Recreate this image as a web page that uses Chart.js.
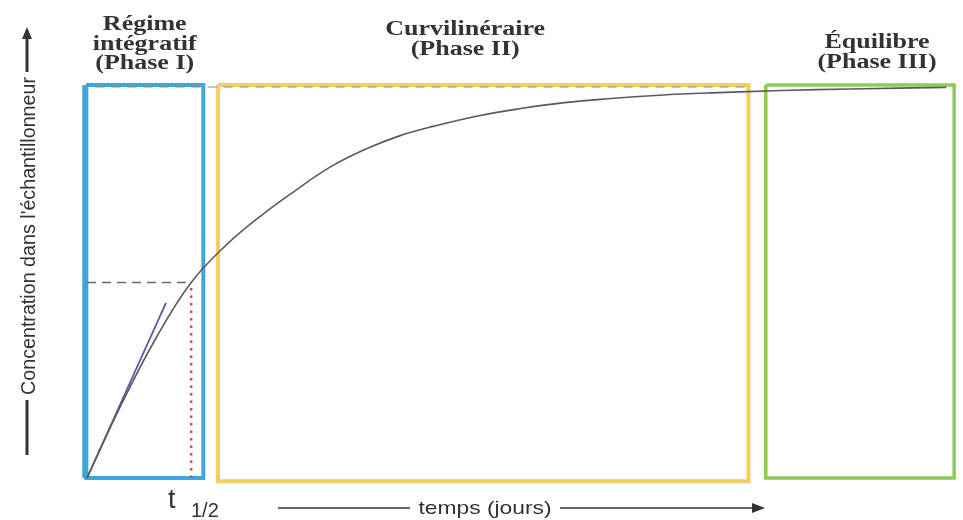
<!DOCTYPE html>
<html>
<head>
<meta charset="utf-8">
<script src="https://cdn.jsdelivr.net/npm/chart.js@4/dist/chart.umd.min.js"></script>
<style>
  html, body { margin: 0; padding: 0; background: #fff; }
  #chart { display: block; }
</style>
</head>
<body>
<canvas id="chart" width="963" height="520"></canvas>
<script>
// Uptake curve (x = time, y = % of equilibrium concentration)
const curveX = [0, 4, 8, 12, 16, 20, 24, 28, 32, 36, 40, 45, 50, 55, 60, 66, 72, 80, 88, 99];
const curveY = [0, 19, 36, 50, 59.5, 67, 73.5, 79.5, 84, 87.5, 90, 92.6, 94.5, 96, 97, 97.9, 98.5, 99.1, 99.5, 99.9];

// Initial slope (linear regime)
const tangentX = [0, 9.1];
const tangentY = [0, 44.8];

// Half-time marker
const halfTime = 12;
const halfConc = 50;
const equilibrium = 100;
const equilibriumEnd = 76;

// Phase frames
const phaseNames = [['Régime', 'intégratif', '(Phase I)'], ['Curvilinéraire', '(Phase II)'], ['Équilibre', '(Phase III)']];
const phaseStart = [-0.1, 15.1, 78.2];
const phaseEnd = [13.4, 76.2, 99.9];
const phaseTop = [100.5, 100.5, 100.5];
const phaseBottom = [0, -0.8, 0];
const phaseColors = ['#3ea6da', '#f4cf5e', '#8fca55'];

const yLabel = "Concentration dans l'échantillonneur";
const xLabel = 'temps (jours)';

function pts(xs, ys) {
    return xs.map((x, i) => ({ x: x, y: ys[i] }));
}

function boxPts(i) {
    const x0 = phaseStart[i], x1 = phaseEnd[i], y0 = phaseBottom[i], y1 = phaseTop[i];
    return [{x: x0, y: y1}, {x: x1, y: y1}, {x: x1, y: y0}, {x: x0, y: y0}, {x: x0, y: y1}];
}

const datasets = [
    {
        label: 'courbe',
        data: pts(curveX, curveY),
        borderColor: '#5a5a5a',
        borderWidth: 1.6,
        tension: 0.4,
        order: 0
    },
    {
        label: 'pente',
        data: pts(tangentX, tangentY),
        borderColor: '#5b57a6',
        borderWidth: 1.8,
        order: 1
    },
    {
        label: 'demi',
        data: [{x: 0, y: halfConc}, {x: halfTime, y: halfConc}],
        borderColor: '#6a6a6a',
        borderWidth: 1.3,
        borderDash: [9, 6],
        order: 2
    },
    {
        label: 't12',
        data: [{x: halfTime, y: 0}, {x: halfTime, y: halfConc}],
        borderColor: '#bd4a80',
        borderWidth: 2.5,
        borderDash: [2.5, 5],
        order: 2
    },
    {
        label: 'eq',
        data: [{x: 1, y: equilibrium}, {x: equilibriumEnd, y: equilibrium}],
        borderColor: '#8a8a8a',
        borderWidth: 1.2,
        borderDash: [9, 7],
        order: 3
    },
    {
        // thicker left side of the first frame
        label: 'bord',
        data: [{x: phaseStart[0] - 0.1, y: phaseBottom[0]}, {x: phaseStart[0] - 0.1, y: phaseTop[0]}],
        borderColor: phaseColors[0],
        borderWidth: 6,
        order: 4
    }
];

phaseStart.forEach((s, i) => {
    datasets.push({
        label: 'phase' + i,
        data: boxPts(i),
        borderColor: phaseColors[i],
        borderWidth: i === 2 ? 3.5 : 4,
        order: 5
    });
});

const labelsPlugin = {
    id: 'labels',
    afterDraw(chart) {
        const ctx = chart.ctx;
        const xs = chart.scales.x;
        ctx.save();
        ctx.fillStyle = '#333';
        ctx.textAlign = 'center';
        ctx.textBaseline = 'alphabetic';

        // phase titles
        const firstBase = [30, 35, 48];
        phaseNames.forEach((lines, i) => {
            const cx = i === 2 ? 877 : (xs.getPixelForValue(phaseStart[i]) + xs.getPixelForValue(phaseEnd[i])) / 2 + (i === 1 ? -18 : 0);
            lines.forEach((t, j) => {
                ctx.save();
                ctx.translate(cx, firstBase[i] + j * 19.5);
                ctx.scale(1.3, 1);
                ctx.font = 'bold 20px "Liberation Serif", serif';
                ctx.fillText(t, 0, 0);
                ctx.restore();
            });
        });

        // y axis label with arrow
        ctx.strokeStyle = '#333';
        ctx.fillStyle = '#333';
        ctx.lineWidth = 3;
        ctx.beginPath();
        ctx.moveTo(27, 455); ctx.lineTo(27, 400);
        ctx.moveTo(27, 72); ctx.lineTo(27, 36);
        ctx.stroke();
        ctx.beginPath();
        ctx.moveTo(27, 27); ctx.lineTo(22, 39); ctx.lineTo(32, 39); ctx.closePath();
        ctx.fill();
        ctx.save();
        ctx.translate(35, 236);
        ctx.rotate(-Math.PI / 2);
        ctx.font = '20px "Liberation Sans", Arial, sans-serif';
        const w = ctx.measureText(yLabel).width;
        ctx.scale(318 / w, 1.05);
        ctx.fillText(yLabel, 0, 0);
        ctx.restore();

        // t 1/2
        ctx.textAlign = 'left';
        ctx.font = '27px "Liberation Sans", Arial, sans-serif';
        ctx.fillText('t', 168, 508);
        ctx.font = '20px "Liberation Sans", Arial, sans-serif';
        ctx.fillText('1/2', 191, 517);

        // x axis label with arrow
        ctx.textAlign = 'center';
        ctx.font = '19px "Liberation Sans", Arial, sans-serif';
        ctx.save();
        ctx.translate(485, 514);
        ctx.scale(1.2, 1);
        ctx.fillText(xLabel, 0, 0);
        ctx.restore();
        ctx.lineWidth = 1.5;
        ctx.beginPath();
        ctx.moveTo(278, 508); ctx.lineTo(410, 508);
        ctx.moveTo(560, 508); ctx.lineTo(755, 508);
        ctx.stroke();
        ctx.beginPath();
        ctx.moveTo(765, 508); ctx.lineTo(752, 503); ctx.lineTo(752, 513); ctx.closePath();
        ctx.fill();
        ctx.restore();
    }
};

new Chart(document.getElementById('chart'), {
    type: 'scatter',
    data: { datasets: datasets },
    options: {
        responsive: false,
        animation: false,
        showLine: true,
        layout: { padding: { left: 87, right: 8, top: 87, bottom: 42 } },
        elements: { point: { radius: 0, hoverRadius: 0 } },
        datasets: { scatter: { clip: false, fill: false } },
        plugins: { legend: { display: false }, tooltip: { enabled: false } },
        scales: {
            x: { type: 'linear', min: 0, max: 100, display: false },
            y: { type: 'linear', min: 0, max: 100, display: false }
        }
    },
    plugins: [labelsPlugin]
});
</script>
</body>
</html>
